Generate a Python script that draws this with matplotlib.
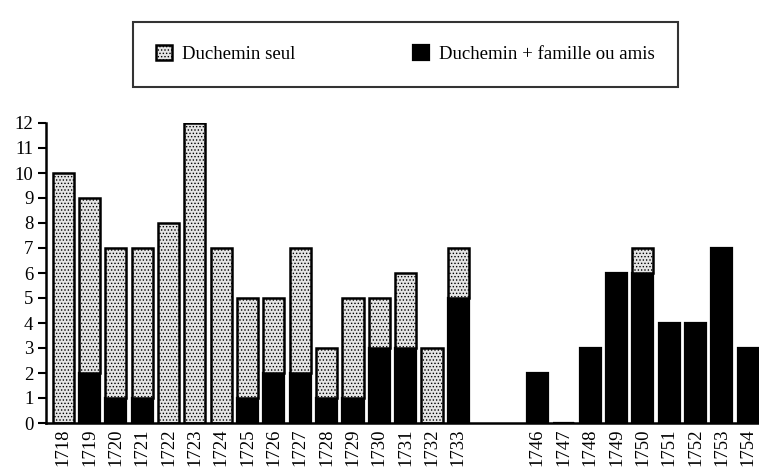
import numpy as np
import matplotlib.pyplot as plt

plt.rcParams['font.family'] = ['Liberation Serif', 'DejaVu Serif']
plt.rcParams['hatch.color'] = '#555555'
plt.rcParams['hatch.linewidth'] = 0.6

years = [1718, 1719, 1720, 1721, 1722, 1723, 1724, 1725, 1726, 1727, 1728,
         1729, 1730, 1731, 1732, 1733,
         1746, 1747, 1748, 1749, 1750, 1751, 1752, 1753, 1754]
seul = [10, 7, 6, 6, 8, 12, 7, 4, 3, 5, 2, 4, 2, 3, 3, 2,
        0, 0, 0, 0, 1, 0, 0, 0, 0]
famille = [0, 2, 1, 1, 0, 0, 0, 1, 2, 2, 1, 1, 3, 3, 0, 5,
           2, 0, 3, 6, 6, 4, 4, 7, 3]

# leave a gap of two slots between 1733 and 1746
pos = [i if y < 1740 else i + 2 for i, y in enumerate(years)]

fig = plt.figure(figsize=(7.59, 4.74), dpi=100)
ax = fig.add_axes([46 / 759, 51 / 474, 713 / 759, 300 / 474])

w = 0.8
ax.bar(pos, famille, w, color='black', edgecolor='black', linewidth=1.6,
       label='Duchemin + famille ou amis', zorder=2)
ax.bar(pos, seul, w, bottom=famille, color='#e4e4e4', edgecolor='black',
       hatch='.....', linewidth=1.8, label='Duchemin seul', zorder=2)

ax.set_xlim(-0.65, 26.41)
ax.set_ylim(0, 12)
ax.set_yticks(range(0, 13))
ax.set_xticks(pos)
ax.set_xticklabels([str(y) for y in years], rotation=90, fontsize=13.5)
ax.tick_params(axis='y', labelsize=13.5, length=6, width=1.5,
               direction='out', pad=3)
ax.tick_params(axis='x', length=0, pad=4)
for s in ['top', 'right']:
    ax.spines[s].set_visible(False)
for s in ['left', 'bottom']:
    ax.spines[s].set_linewidth(1.8)
ax.spines['left'].set_clip_on(False)

h, l = ax.get_legend_handles_labels()
leg = fig.legend(h[::-1], l[::-1], loc='upper left', ncol=2,
                 bbox_to_anchor=(133 / 759, 1 - 22 / 474), borderaxespad=0,
                 fontsize=13.5, frameon=True, fancybox=False,
                 handlelength=0.85, handleheight=0.85, handletextpad=0.5,
                 columnspacing=6.3, borderpad=1.25)
leg.get_frame().set_edgecolor('black')
leg.get_frame().set_linewidth(1.5)

fig.savefig('out.png', dpi=100)
